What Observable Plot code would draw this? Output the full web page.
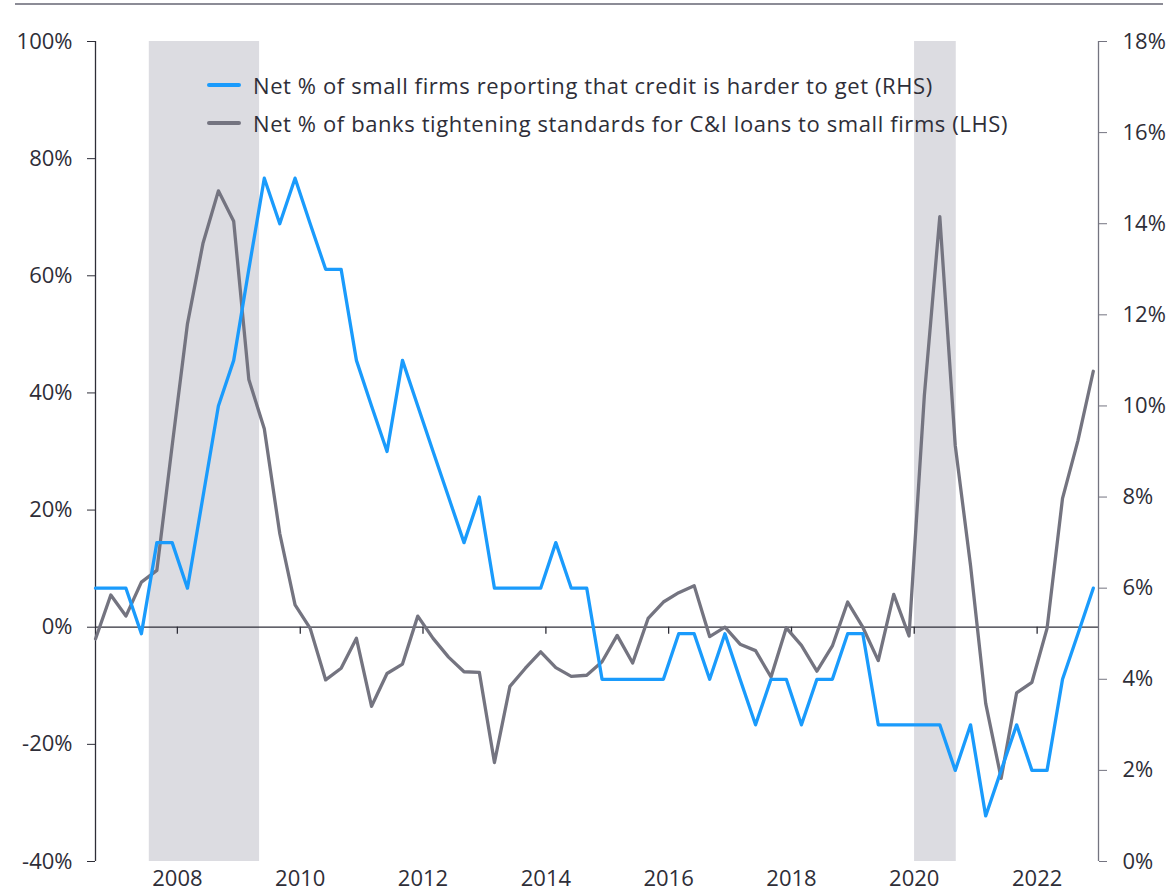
<!DOCTYPE html>
<html>
<head>
<meta charset="utf-8">
<script src="https://cdn.jsdelivr.net/npm/d3@7"></script>
<script src="https://cdn.jsdelivr.net/npm/@observablehq/plot@0.6"></script>
<style>
  body { margin: 0; background: #fff; }
  #wrap { position: relative; width: 1169px; height: 896px; font-family: "Open Sans", "Noto Sans", sans-serif; color: #2e2e38; }
  #topline { position: absolute; left: 15px; top: 3px; width: 1148px; height: 2px; background: #8c8c96; }
  #chart { position: absolute; left: 0; top: 0; }
  .row { position: absolute; left: 207px; height: 30px; display: flex; align-items: center; font-size: 22px; letter-spacing: 0.6px; white-space: nowrap; }
  .sw { width: 34px; height: 4px; border-radius: 2px; margin-right: 12px; }
</style>
</head>
<body>
<div id="wrap">
  <div id="topline"></div>
  <div id="chart"></div>
  <div id="legend"></div>
</div>
<script>
// Quarterly observations, 2006Q3 – 2022Q4
const quarters = [
  "2006Q3","2006Q4",
  "2007Q1","2007Q2","2007Q3","2007Q4",
  "2008Q1","2008Q2","2008Q3","2008Q4",
  "2009Q1","2009Q2","2009Q3","2009Q4",
  "2010Q1","2010Q2","2010Q3","2010Q4",
  "2011Q1","2011Q2","2011Q3","2011Q4",
  "2012Q1","2012Q2","2012Q3","2012Q4",
  "2013Q1","2013Q2","2013Q3","2013Q4",
  "2014Q1","2014Q2","2014Q3","2014Q4",
  "2015Q1","2015Q2","2015Q3","2015Q4",
  "2016Q1","2016Q2","2016Q3","2016Q4",
  "2017Q1","2017Q2","2017Q3","2017Q4",
  "2018Q1","2018Q2","2018Q3","2018Q4",
  "2019Q1","2019Q2","2019Q3","2019Q4",
  "2020Q1","2020Q2","2020Q3","2020Q4",
  "2021Q1","2021Q2","2021Q3","2021Q4",
  "2022Q1","2022Q2","2022Q3","2022Q4"
];

// Net % of small firms reporting that credit is harder to get (RHS, %)
const firmsHarder = [
  6, 6, 6, 5, 7, 7, 6, 8, 10, 11, 13, 15, 14, 15, 14, 13, 13, 11, 10, 9, 11, 10,
  9, 8, 7, 8, 6, 6, 6, 6, 7, 6, 6, 4, 4, 4, 4, 4, 5, 5, 4, 5, 4, 3, 4, 4,
  3, 4, 4, 5, 5, 3, 3, 3, 3, 3, 2, 3, 1, 2, 3, 2, 2, 4, 5, 6
];

// Net % of banks tightening standards for C&I loans to small firms (LHS, %)
const banksTightening = [
  -2, 5.5, 1.9, 7.7, 9.7, 31, 51.8, 65.5, 74.5, 69.3, 42.3, 33.9, 16, 3.8, -0.2, -9,
  -7, -1.9, -13.5, -7.9, -6.3, 1.9, -1.9, -5.1, -7.6, -7.7, -23.1, -10.1, -7, -4.2, -6.9, -8.4,
  -8.2, -5.9, -1.4, -6.1, 1.5, 4.3, 5.9, 7.1, -1.6, 0, -2.9, -4, -8.5, -0.1, -3.1, -7.5,
  -3.2, 4.3, 0, -5.7, 5.6, -1.5, 39.5, 70.1, 31, 10.5, -13, -25.8, -11.2, -9.4, -0.2, 22,
  31.9, 43.7
];

// Recession shading
const recessionStart = ["2007-07-18", "2020-01-03"];
const recessionEnd   = ["2009-05-04", "2020-09-07"];

// Axis ticks
const leftTicks = [-40, -20, 0, 20, 40, 60, 80, 100];
const rightTicks = [0, 2, 4, 6, 8, 10, 12, 14, 16, 18];
const tickYears = [2008, 2010, 2012, 2014, 2016, 2018, 2020, 2022];

const seriesNames = [
  "Net % of small firms reporting that credit is harder to get (RHS)",
  "Net % of banks tightening standards for C&I loans to small firms (LHS)"
];
const seriesColors = ["#1a9bfc", "#747480"];

// ---- build tables ----
function quarterDate(q) {
  const y = +q.slice(0, 4), n = +q.slice(5);
  return new Date(Date.UTC(y, (n - 1) * 3 + 2, 1));
}
const LMIN = -40, LMAX = 100, RMIN = 0, RMAX = 18;
const toLeft = r => LMIN + (r - RMIN) * (LMAX - LMIN) / (RMAX - RMIN);
const toRight = l => RMIN + (l - LMIN) * (RMAX - RMIN) / (LMAX - LMIN);

const firms = quarters.map((q, i) => ({date: quarterDate(q), value: firmsHarder[i]}));
const banks = quarters.map((q, i) => ({date: quarterDate(q), value: banksTightening[i]}));
const recessions = recessionStart.map((s, i) => ({start: new Date(s), end: new Date(recessionEnd[i])}));
const yearDates = tickYears.map(y => new Date(Date.UTC(y, 0, 1)));

const xDomain = [new Date(Date.UTC(2006, 8, 1)), new Date(Date.UTC(2023, 0, 1))];
const textColor = "#2e2e38";
const font = '"Open Sans", "Noto Sans", sans-serif';

const chart = Plot.plot({
  width: 1169,
  height: 896,
  marginLeft: 95,
  marginRight: 71,
  marginTop: 41,
  marginBottom: 35,
  style: {fontFamily: font, fontSize: "22px", color: textColor, background: "transparent"},
  x: {type: "utc", domain: xDomain, label: null},
  y: {domain: [LMIN, LMAX], label: null},
  marks: [
    Plot.rect(recessions, {x1: "start", x2: "end", y1: LMIN, y2: LMAX, fill: "#dcdce1"}),
    Plot.ruleY([0], {stroke: textColor, strokeWidth: 1.3}),
    Plot.ruleX(yearDates, {x: d => d, y1: 0, y2: -1.2, stroke: textColor, strokeWidth: 1.3}),
    Plot.ruleX([xDomain[0]], {y1: LMIN, y2: LMAX, stroke: textColor, strokeWidth: 1.3}),
    Plot.ruleX([xDomain[1]], {y1: LMIN, y2: LMAX, stroke: "#747480", strokeWidth: 1.3}),
    Plot.line(banks, {x: "date", y: "value", stroke: seriesColors[1], strokeWidth: 3.3, strokeLinejoin: "round", strokeLinecap: "round"}),
    Plot.line(firms, {x: "date", y: d => toLeft(d.value), stroke: seriesColors[0], strokeWidth: 3.3, strokeLinejoin: "round", strokeLinecap: "round"}),
    Plot.axisY(leftTicks, {anchor: "left", label: null, tickSize: 8, tickPadding: 15, stroke: textColor, fill: textColor, tickFormat: d => d + "%", fontSize: 22}),
    Plot.axisY(rightTicks.map(toLeft), {anchor: "right", label: null, tickSize: 8, tickPadding: 16, stroke: "#747480", fill: textColor, tickFormat: d => Math.round(toRight(d)) + "%", fontSize: 22}),
    Plot.axisX(yearDates, {anchor: "bottom", label: null, tickSize: 0, tickPadding: 9, tickFormat: d => String(d.getUTCFullYear()), fill: textColor, fontSize: 22})
  ]
});
document.getElementById("chart").appendChild(chart);

// legend overlay
const legend = document.getElementById("legend");
const rowCenters = [85, 123];
seriesNames.forEach((name, i) => {
  const row = document.createElement("div");
  row.className = "row";
  row.style.top = (rowCenters[i] - 15) + "px";
  const sw = document.createElement("div");
  sw.className = "sw";
  sw.style.background = seriesColors[i];
  const t = document.createElement("span");
  t.textContent = name;
  row.appendChild(sw);
  row.appendChild(t);
  legend.appendChild(row);
});
</script>
</body>
</html>
